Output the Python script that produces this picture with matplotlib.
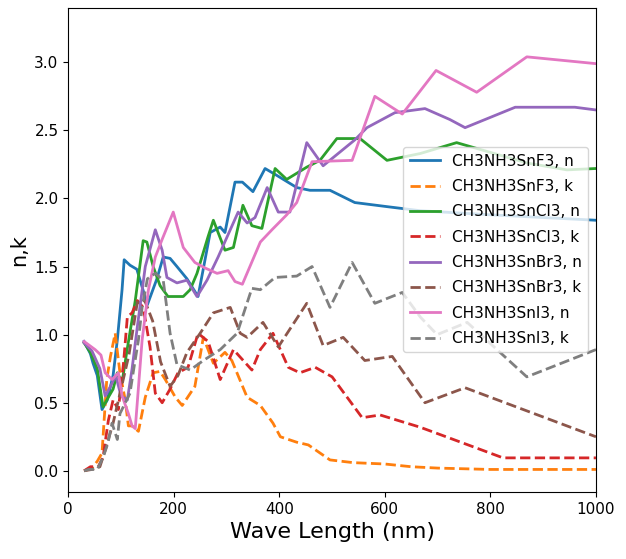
import matplotlib
matplotlib.use("Agg")
import matplotlib.pyplot as plt

plt.rcParams['font.family'] = ['DejaVu Sans']

# CH3NH3SnF3
f_n_x = [30, 42, 47, 55, 64, 74, 85, 93, 102, 106, 117, 130, 140, 150, 168, 180, 193, 206, 225, 246,
         269, 288, 297, 316, 330, 350, 373, 395, 433, 458, 496, 543, 604, 667, 800, 1000]
f_n_y = [0.95, 0.86, 0.79, 0.70, 0.45, 0.52, 0.70, 0.96, 1.33, 1.55, 1.51, 1.48, 1.35, 1.22, 1.41, 1.57, 1.56, 1.50, 1.41, 1.28,
         1.75, 1.79, 1.75, 2.12, 2.12, 2.05, 2.22, 2.17, 2.08, 2.06, 2.06, 1.97, 1.94, 1.91, 1.88, 1.84]
f_k_x = [30, 45, 55, 64, 73, 80, 89, 92, 98, 108, 114, 121, 133, 146, 161, 174, 184, 203, 216, 240,
         256, 275, 297, 310, 339, 364, 388, 402, 433, 455, 496, 540, 600, 650, 700, 800, 1000]
f_k_y = [0.0, 0.02, 0.07, 0.13, 0.67, 0.84, 1.01, 0.91, 0.72, 0.52, 0.33, 0.33, 0.29, 0.54, 0.72, 0.73, 0.67, 0.54, 0.48, 0.62,
         0.98, 0.79, 0.87, 0.81, 0.54, 0.48, 0.35, 0.25, 0.21, 0.19, 0.08, 0.06, 0.05, 0.03, 0.02, 0.01, 0.01]

# CH3NH3SnCl3
cl_n_x = [30, 42, 55, 66, 76, 85, 93, 102, 112, 127, 142, 149, 161, 174, 189, 206, 218, 231, 244, 265,
          275, 297, 313, 331, 348, 367, 392, 414, 452, 477, 509, 540, 553, 604, 667, 736, 870, 945, 1000]
cl_n_y = [0.94, 0.87, 0.75, 0.47, 0.54, 0.60, 0.72, 0.65, 0.90, 1.25, 1.69, 1.68, 1.50, 1.36, 1.28, 1.28, 1.28, 1.33, 1.45, 1.72,
          1.84, 1.62, 1.64, 1.95, 1.80, 1.78, 2.22, 2.14, 2.23, 2.28, 2.44, 2.44, 2.44, 2.28, 2.33, 2.41, 2.26, 2.21, 2.22]
cl_k_x = [30, 42, 57, 66, 76, 85, 95, 105, 112, 121, 131, 142, 155, 165, 178, 193, 208, 227, 246, 265,
          288, 313, 348, 364, 388, 417, 439, 468, 500, 557, 591, 667, 723, 824, 1000]
cl_k_y = [0.0, 0.03, 0.03, 0.10, 0.37, 0.52, 0.45, 0.80, 1.13, 1.16, 1.25, 1.20, 0.91, 0.57, 0.50, 0.60, 0.72, 0.76, 1.01, 0.95,
          0.67, 0.89, 0.74, 0.89, 1.01, 0.76, 0.72, 0.76, 0.69, 0.39, 0.41, 0.32, 0.24, 0.095, 0.095]

# CH3NH3SnBr3
br_n_x = [30, 45, 60, 70, 80, 90, 100, 112, 121, 131, 146, 165, 178, 187, 206, 225, 244, 263, 284, 322,
          339, 354, 377, 398, 420, 452, 483, 543, 566, 619, 676, 723, 752, 847, 960, 1000]
br_n_y = [0.94, 0.88, 0.75, 0.55, 0.62, 0.70, 0.55, 0.52, 0.75, 1.06, 1.50, 1.77, 1.62, 1.42, 1.38, 1.40, 1.28, 1.40, 1.57, 1.90,
          1.82, 1.86, 2.08, 1.90, 1.90, 2.41, 2.24, 2.43, 2.52, 2.63, 2.66, 2.58, 2.52, 2.67, 2.67, 2.65]
br_k_x = [30, 45, 60, 70, 85, 100, 115, 131, 145, 160, 175, 193, 208, 225, 250, 275, 307, 326, 339, 369,
          398, 452, 483, 521, 562, 614, 676, 752, 1000]
br_k_y = [0.0, 0.01, 0.03, 0.15, 0.35, 0.60, 0.85, 1.24, 1.25, 1.10, 0.80, 0.62, 0.70, 0.87, 1.01, 1.16, 1.20, 1.01, 0.98, 1.09,
          0.91, 1.23, 0.92, 0.98, 0.81, 0.84, 0.50, 0.61, 0.25]

# CH3NH3SnI3
i_n_x = [30, 51, 62, 70, 83, 95, 102, 114, 121, 127, 140, 152, 165, 178, 199, 218, 240, 259, 282, 303,
         316, 330, 364, 386, 414, 433, 462, 538, 581, 633, 697, 774, 869, 1000]
i_n_y = [0.95, 0.89, 0.85, 0.72, 0.67, 0.72, 0.55, 0.42, 0.33, 0.31, 0.96, 1.33, 1.57, 1.70, 1.90, 1.64, 1.53, 1.49, 1.45, 1.47,
         1.39, 1.37, 1.68, 1.77, 1.88, 1.97, 2.27, 2.28, 2.75, 2.62, 2.94, 2.78, 3.04, 2.99]
i_k_x = [30, 38, 55, 66, 75, 83, 93, 98, 117, 123, 133, 140, 150, 165, 180, 193, 206, 231, 256, 288,
         320, 348, 364, 392, 433, 462, 496, 538, 581, 633, 667, 699, 756, 869, 1000]
i_k_y = [0.0, 0.01, 0.01, 0.10, 0.20, 0.35, 0.23, 0.42, 0.57, 0.72, 0.96, 1.20, 1.41, 1.45, 1.40, 1.01, 0.78, 0.74, 0.81, 0.89,
         1.01, 1.34, 1.33, 1.42, 1.43, 1.50, 1.20, 1.53, 1.23, 1.31, 1.13, 1.00, 1.09, 0.69, 0.89]

series = [
    (f_n_x, f_n_y, 'CH3NH3SnF3, n', '-'),
    (f_k_x, f_k_y, 'CH3NH3SnF3, k', '--'),
    (cl_n_x, cl_n_y, 'CH3NH3SnCl3, n', '-'),
    (cl_k_x, cl_k_y, 'CH3NH3SnCl3, k', '--'),
    (br_n_x, br_n_y, 'CH3NH3SnBr3, n', '-'),
    (br_k_x, br_k_y, 'CH3NH3SnBr3, k', '--'),
    (i_n_x, i_n_y, 'CH3NH3SnI3, n', '-'),
    (i_k_x, i_k_y, 'CH3NH3SnI3, k', '--'),
]

fig = plt.figure(figsize=(6.26, 5.59), dpi=100)
ax = fig.add_axes([0.109, 0.12, 0.843, 0.866])

for x, y, lab, ls in series:
    ax.plot(x, y, ls, lw=2, label=lab)

ax.set_xlim(0, 1000)
ax.set_ylim(-0.155, 3.4)
ax.set_xticks([0, 200, 400, 600, 800, 1000])
ax.set_yticks([0.0, 0.5, 1.0, 1.5, 2.0, 2.5, 3.0])
ax.tick_params(labelsize=11)
ax.set_xlabel('Wave Length (nm)', fontsize=16)
ax.set_ylabel('n,k', fontsize=15)
ax.legend(loc='center right', fontsize=11, labelspacing=0.68)

fig.savefig('out.png', dpi=100)
